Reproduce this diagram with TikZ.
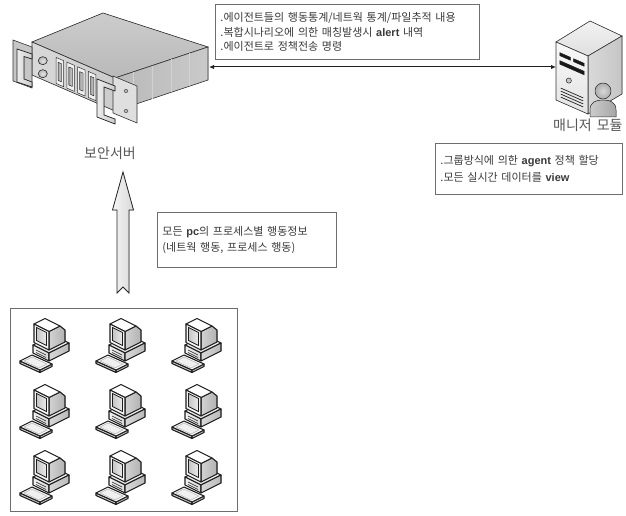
\documentclass[tikz,border=0pt]{standalone}
\usepackage{fontspec}
\setmainfont[WordSpace=1.6]{Noto Sans CJK KR}
\newfontfamily\latinbold[BoldFont={Liberation Sans Bold}]{Liberation Sans}
\usetikzlibrary{arrows.meta,calc}
\definecolor{txt}{HTML}{3A3A3A}
\definecolor{frame}{HTML}{6E6E6E}
\definecolor{ink}{HTML}{1E1E1E}
\newcommand\bw[1]{{\latinbold\bfseries #1}}
% point on the front face of the rack unit: fraction along the top edge, drop below it
\newcommand\fpt[2]{($(sA)!#1!(sB)+(0,#2)$)}
% point on the front face of the tower
\newcommand\tpt[2]{($(tL)!#1!(tF)+(0,#2)$)}
\tikzset{
  infobox/.style={draw=frame, line width=0.9pt, fill=white, anchor=north west,
    inner xsep=5pt, inner ysep=0pt, align=left, text=txt},
  caption/.style={text=txt!85, font=\fontsize{14}{16}\selectfont, inner sep=0pt},
  outline/.style={draw=ink, line width=1.1pt, line join=round},
  pc/.pic={
    % desktop case
    \filldraw[outline, top color=white, bottom color=gray!25] (13,26) -- (29,34) -- (49,24) -- (33,16) -- cycle;
    \filldraw[outline, left color=gray!10, right color=gray!30] (13,26) -- (29,34) -- (29,42) -- (13,34) -- cycle;
    \filldraw[outline, left color=gray!30, right color=gray!55] (29,34) -- (49,24) -- (49,32) -- (29,42) -- cycle;
    \draw[ink, line width=0.6pt] (16,31) -- (26,36) (16,33.5) -- (26,38.5);
    % monitor with its tube housing
    \filldraw[outline, left color=gray!35, right color=gray!60] (29,12.5) -- (40,7) -- (45,11) -- (45,23) -- (40,25.5) -- (29,31) -- cycle;
    \filldraw[outline, fill=white] (14,5) -- (29,12.5) -- (40,7) -- (25,-0.5) -- cycle;
    \filldraw[outline, fill=gray!8] (14,5) -- (29,12.5) -- (29,31) -- (14,23.5) -- cycle;
    \filldraw[draw=ink, line width=0.7pt, left color=gray!45, right color=gray!15] (16.5,8.5) -- (26.5,13.5) -- (26.5,26.5) -- (16.5,21.5) -- cycle;
    % keyboard
    \filldraw[outline, fill=gray!35] (0,42) -- (20,51) -- (20,53.5) -- (0,44.5) -- cycle;
    \filldraw[outline, fill=gray!50] (20,51) -- (32,45) -- (32,47.5) -- (20,53.5) -- cycle;
    \filldraw[outline, fill=white] (0,42) -- (12,36) -- (32,45) -- (20,51) -- cycle;
    \filldraw[draw=gray!60, line width=0.5pt, fill=gray!12] (4,42) -- (12,38) -- (27,45) -- (19,49) -- cycle;
  }
}
\begin{document}
\begin{tikzpicture}[x=1pt, y=-1pt]
\useasboundingbox[fill=white] (0,0) rectangle (626,516);

% ---------------- security server (rack unit) ----------------
\coordinate (sA) at (32,42);  \coordinate (sB) at (115,78);
\coordinate (sC) at (208,47); \coordinate (sD) at (103,13);
\coordinate (sA2) at (32,75); \coordinate (sB2) at (115,111);
\coordinate (sC2) at (208,80);
\filldraw[draw=gray!40!black, line width=0.6pt, top color=gray!40, bottom color=gray!55]
  (sA) -- (sD) -- (sC) -- (sB) -- cycle;
\filldraw[draw=gray!40!black, line width=0.6pt, left color=gray!55, right color=gray!42]
  (sB) -- (sC) -- (sC2) -- (sB2) -- cycle;
\foreach \f in {0.2,0.4,0.6,0.8}
  \draw[gray!35, line width=0.5pt] ($(sB)!\f!(sC)$) -- ($(sB2)!\f!(sC2)$);
\filldraw[draw=gray!40!black, line width=0.6pt, left color=gray!30, right color=gray!40]
  (sA) -- (sB) -- (sB2) -- (sA2) -- cycle;
% knobs
\foreach \t in {14,27}
  \filldraw[draw=gray!30!black, line width=0.5pt, inner color=gray!20, outer color=gray!60]
    \fpt{0.13}{\t} ellipse [x radius=4.5, y radius=4];
% drive slots
\foreach \s/\e/\a/\b in {0.29/0.38/0.315/0.355, 0.42/0.51/0.445/0.485, 0.55/0.64/0.575/0.615, 0.68/0.77/0.705/0.745}{
  \filldraw[draw=gray!40!black, line width=0.5pt, fill=gray!12]
    \fpt{\s}{5} -- \fpt{\e}{5} -- \fpt{\e}{31} -- \fpt{\s}{31} -- cycle;
  \filldraw[draw=gray!30!black, line width=0.4pt, left color=gray!70, right color=gray!40]
    \fpt{\a}{9} -- \fpt{\b}{9} -- \fpt{\b}{27} -- \fpt{\a}{27} -- cycle;
}
% left mounting ear and handle
\filldraw[draw=gray!40!black, line width=0.6pt, fill=gray!45]
  (13,40) -- (32,47) -- (32,88) -- (13,81) -- cycle;
\filldraw[draw=gray!30!black, line width=0.7pt, left color=gray!15, right color=gray!40]
  (17,49) -- (32,54) -- (32,59) -- (24,56.5) -- (24,79) -- (32,82) -- (32,87) -- (17,82) -- cycle;
% right mounting ear and handle
\filldraw[draw=gray!40!black, line width=0.6pt, fill=gray!25]
  (113,76) -- (137,86) -- (137,123) -- (113,113) -- cycle;
\foreach \y in {91,111}
  \filldraw[draw=gray!40!black, line width=0.4pt, fill=gray!55] (126,\y) ellipse [x radius=2, y radius=1.6];
\filldraw[draw=gray!30!black, line width=0.7pt, left color=gray!15, right color=gray!40]
  (97,79) -- (115,86) -- (115,91) -- (104,87) -- (104,115) -- (115,119) -- (115,124) -- (97,117) -- cycle;
\coordinate (srvport) at (209,67);
\node[caption] (srvlabel) at (110,153) {보안서버};

% ---------------- manager console (tower) ----------------
\coordinate (tL) at (556,42);  \coordinate (tF) at (588,56);
\coordinate (tR) at (622,36);  \coordinate (tK) at (590,21);
\coordinate (tL2) at (556,100); \coordinate (tF2) at (588,114);
\coordinate (tR2) at (622,94);
\filldraw[draw=gray!45!black, line width=0.6pt, top color=gray!10, bottom color=gray!25]
  (tL) -- (tK) -- (tR) -- (tF) -- cycle;
\filldraw[draw=gray!45!black, line width=0.6pt, left color=gray!30, right color=gray!45]
  (tF) -- (tR) -- (tR2) -- (tF2) -- cycle;
\filldraw[draw=gray!45!black, line width=0.6pt, top color=gray!5, bottom color=gray!22]
  (tL) -- (tF) -- (tF2) -- (tL2) -- cycle;
\filldraw[gray!20!black] \tpt{0.12}{9} -- \tpt{0.45}{9} -- \tpt{0.45}{12} -- \tpt{0.12}{12} -- cycle;
\filldraw[gray!20!black] \tpt{0.55}{9} -- \tpt{0.88}{9} -- \tpt{0.88}{12} -- \tpt{0.55}{12} -- cycle;
\filldraw[gray!20!black] \tpt{0.12}{17} -- \tpt{0.88}{17} -- \tpt{0.88}{20.5} -- \tpt{0.12}{20.5} -- cycle;
\filldraw[draw=gray!30!black, line width=0.5pt, fill=gray!45] \tpt{0.4}{33} circle [radius=2.6];
\foreach \t in {44,47,50,53}
  \draw[gray!25!black, line width=0.7pt] \tpt{0.15}{\t} -- \tpt{0.85}{\t};
% operator badge
\filldraw[draw=gray!40!black, line width=0.5pt, left color=gray!40, right color=gray!70]
  (590,117) -- (590,110) .. controls (590,102) and (596,100) .. (603,100)
  .. controls (610,100) and (616,102) .. (616,110) -- (616,117) -- cycle;
\filldraw[draw=gray!40!black, line width=0.5pt, inner color=gray!30, outer color=gray!65]
  (603,91) circle [radius=8];
\coordinate (mgrport) at (556,67);
\node[caption, anchor=west] (mgrlabel) at (553,125) {매니저 모듈};

% ---------------- link between server and manager ----------------
\draw[draw=gray!25!black, line width=1pt, {Latex[length=5pt,width=4.5pt]}-{Latex[length=5pt,width=4.5pt]}]
  (srvport) -- (mgrport);

\node[infobox, minimum width=264pt, minimum height=55pt, text width=254pt,
      font=\fontsize{11}{14.5}\selectfont] (srvinfo) at (215,4)
  {.에이전트들의 행동통계/네트웍 통계/파일추적 내용\\
   .복합시나리오에 의한 매칭발생시 \bw{alert} 내역\\
   .에이전트로 정책전송 명령};

\node[infobox, minimum width=187pt, minimum height=51pt, text width=177pt,
      font=\fontsize{11}{16.5}\selectfont] (mgrinfo) at (435,143)
  {.그룹방식에 의한 \bw{agent} 정책 할당\\
   .모든 실시간 데이터를 \bw{view}};

% ---------------- upload arrow from the agent PCs ----------------
\filldraw[draw=gray!30!black, line width=0.8pt, left color=gray!8, right color=gray!30]
  (123,172) -- (133.5,210) -- (129,210) -- (129,293) -- (123,287) -- (117,293)
  -- (117,210) -- (112.5,210) -- cycle;

\node[infobox, minimum width=179pt, minimum height=55pt, text width=169pt,
      font=\fontsize{11}{16.5}\selectfont] (pcinfo) at (157,212)
  {모든 \bw{pc}의 프로세스별 행동정보\\
   (네트웍 행동, 프로세스 행동)};

% ---------------- agent PCs ----------------
\node[draw=frame, line width=0.9pt, anchor=north west, minimum width=227pt,
      minimum height=203pt, inner sep=0pt] (pcs) at (10,308) {};
\foreach \r/\y in {1/319, 2/385, 3/451}
  \foreach \c/\x in {1/20, 2/96, 3/172}
    \pic (pc\r\c) at (\x,\y) {pc};
\end{tikzpicture}
\end{document}
